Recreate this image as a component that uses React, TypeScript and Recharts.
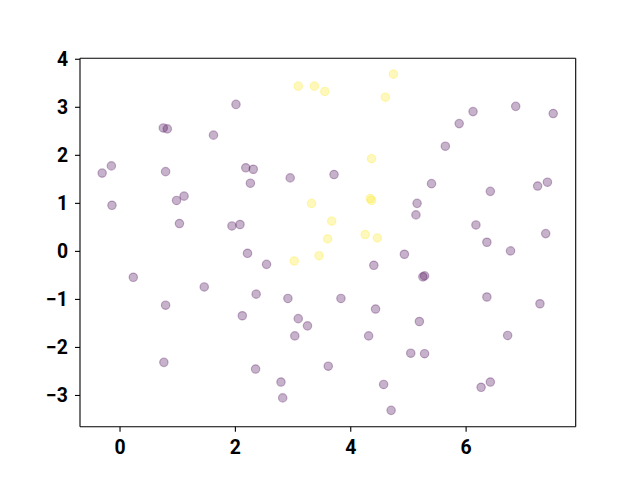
import { ReferenceLine, Scatter, ScatterChart, XAxis, YAxis } from "recharts";

// class 0 (dark purple) points, [x, y]
const purplePoints: [number, number][] = [
  [2.01, 3.06], [0.75, 2.57], [0.82, 2.55], [1.62, 2.42], [-0.15, 1.78],
  [-0.31, 1.63], [0.79, 1.66], [2.18, 1.74], [2.31, 1.71], [2.26, 1.42],
  [-0.14, 0.96], [1.11, 1.15], [0.98, 1.06], [1.03, 0.58], [1.94, 0.53],
  [2.08, 0.56], [2.95, 1.53], [3.71, 1.6], [6.12, 2.91], [6.86, 3.02],
  [7.51, 2.87], [5.88, 2.66], [5.64, 2.19], [5.4, 1.41], [6.42, 1.25],
  [7.24, 1.36], [7.41, 1.44], [5.15, 1.0], [5.13, 0.76], [6.17, 0.55],
  [7.38, 0.37], [6.36, 0.19], [0.23, -0.54], [1.46, -0.74], [0.79, -1.12],
  [2.12, -1.34], [0.76, -2.31], [2.21, -0.04], [2.54, -0.27], [4.4, -0.29],
  [4.93, -0.06], [2.36, -0.89], [2.91, -0.98], [3.83, -0.98], [4.43, -1.2],
  [3.09, -1.4], [3.25, -1.55], [3.03, -1.76], [4.31, -1.76], [5.04, -2.12],
  [3.61, -2.39], [2.35, -2.45], [2.79, -2.72], [4.57, -2.77], [2.82, -3.05],
  [4.7, -3.31], [6.77, 0.01], [5.25, -0.53], [5.28, -0.51], [6.36, -0.95],
  [7.28, -1.09], [5.19, -1.46], [6.72, -1.75], [5.28, -2.13], [6.42, -2.72],
  [6.26, -2.83],
];

// class 1 (yellow) points, [x, y]
const yellowPoints: [number, number][] = [
  [3.09, 3.44], [3.37, 3.44], [3.55, 3.33], [4.74, 3.69], [4.6, 3.21],
  [4.36, 1.93], [3.32, 1.0], [4.34, 1.1], [4.36, 1.06], [3.67, 0.63],
  [3.6, 0.26], [4.25, 0.35], [4.46, 0.28], [3.02, -0.2], [3.45, -0.09],
];

const xTicks = [0, 2, 4, 6];
const yTicks = [-3, -2, -1, 0, 1, 2, 3, 4];
const xDomain: [number, number] = [-0.694, 7.9];
const yDomain: [number, number] = [-3.65, 4.02];

const toRows = (pts: [number, number][]) => pts.map(([x, y]) => ({ x, y }));

const fmt = (v: number) => (v < 0 ? `\u2212${Math.abs(v)}` : `${v}`);

const labelStyle = {
  fontFamily: "Roboto, sans-serif",
  fontWeight: 700,
  fontSize: 19.4,
  fill: "#000",
};

function XTick({ x, y, payload }: any) {
  return (
    <text x={x} y={y} dy={20.3} textAnchor="middle" {...labelStyle}>
      {fmt(payload.value)}
    </text>
  );
}

function YTick({ x, y, payload }: any) {
  return (
    <text x={x} y={y} dx={-5} dy={6.9} textAnchor="end" {...labelStyle}>
      {fmt(payload.value)}
    </text>
  );
}

function dot(color: string) {
  return (props: any) => (
    <circle
      cx={props.cx}
      cy={props.cy}
      r={4.2}
      fill={color}
      fillOpacity={0.3}
      stroke={color}
      strokeOpacity={0.3}
      strokeWidth={1.2}
    />
  );
}

export default function App() {
  return (
    <div style={{ position: "absolute", left: 0, top: 0, width: 640, height: 480, background: "#fff" }}>
      <ScatterChart
        width={640}
        height={480}
        margin={{ top: 58.3, right: 64.3, bottom: 13.3, left: 20 }}
      >
        <XAxis
          type="number"
          dataKey="x"
          domain={xDomain}
          ticks={xTicks}
          allowDataOverflow
          height={40}
          tickSize={5}
          tickMargin={2}
          tick={<XTick />}
          axisLine={{ stroke: "#000", strokeWidth: 1.1 }}
          tickLine={{ stroke: "#000", strokeWidth: 1.1 }}
        />
        <YAxis
          type="number"
          dataKey="y"
          domain={yDomain}
          ticks={yTicks}
          allowDataOverflow
          width={60}
          tickSize={5}
          tickMargin={2}
          tick={<YTick />}
          axisLine={{ stroke: "#000", strokeWidth: 1.1 }}
          tickLine={{ stroke: "#000", strokeWidth: 1.1 }}
        />
        <ReferenceLine x={xDomain[1]} stroke="#000" strokeWidth={1.1} ifOverflow="visible" />
        <ReferenceLine y={yDomain[1]} stroke="#000" strokeWidth={1.1} ifOverflow="visible" />
        <Scatter data={toRows(purplePoints)} shape={dot("#440154")} isAnimationActive={false} />
        <Scatter data={toRows(yellowPoints)} shape={dot("#fde725")} isAnimationActive={false} />
      </ScatterChart>
    </div>
  );
}
